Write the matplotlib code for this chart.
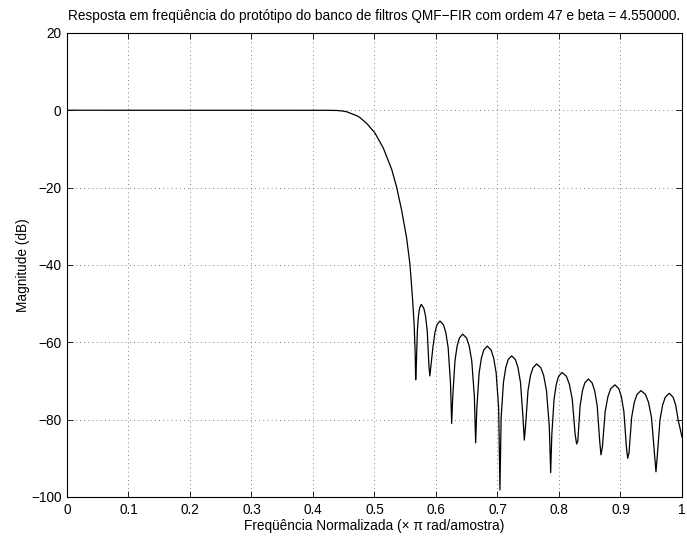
import matplotlib
matplotlib.use("Agg")
import matplotlib.pyplot as plt

plt.rcParams["font.family"] = ["Liberation Sans", "DejaVu Sans"]
plt.rcParams["font.size"] = 9.8

# frequency (x pi rad/sample) and magnitude (dB) of the QMF prototype
freq = [
    0.0, 0.1, 0.2, 0.3, 0.38, 0.42, 0.4385, 0.447,
    0.4548, 0.471, 0.4764, 0.4873, 0.5008, 0.5144, 0.528, 0.536, 0.5442, 0.5523,
    0.5577, 0.562, 0.5645, 0.566,
    0.567, 0.5679, 0.5697, 0.5715, 0.5733, 0.576, 0.5802, 0.583, 0.5858, 0.5886,
    0.590, 0.59495, 0.59825, 0.60155, 0.6065, 0.6122, 0.616, 0.6198, 0.6236,
    0.6255, 0.62729, 0.63087, 0.63445, 0.63803, 0.6434, 0.64973, 0.65395, 0.65817, 0.66239,
    0.6645, 0.66639, 0.67017, 0.67395, 0.67773, 0.6834, 0.68958, 0.6937, 0.69782, 0.70194,
    0.704, 0.7059, 0.7097, 0.7135, 0.7173, 0.723, 0.72918, 0.7333, 0.73742, 0.74154,
    0.7436, 0.74561, 0.74963, 0.75365, 0.75767, 0.7637, 0.77054, 0.7751, 0.77966, 0.78422,
    0.7865, 0.78834, 0.79202, 0.7957, 0.79938, 0.8049, 0.81204, 0.8168, 0.82156, 0.82632,
    0.8287, 0.8306, 0.8344, 0.8382, 0.842, 0.8477, 0.85388, 0.858, 0.86212, 0.86624,
    0.8683, 0.87057, 0.87511, 0.87965, 0.88419, 0.891, 0.89721, 0.90135, 0.90549, 0.90963,
    0.9117, 0.91386, 0.91818, 0.9225, 0.92682, 0.9333, 0.94062, 0.9455, 0.95038, 0.95526,
    0.9577, 0.95987, 0.96421, 0.96855, 0.97289, 0.9794, 0.98558, 0.9897, 0.99382, 1.0,
]
mag_db = [
    0.0, 0.0, 0.0, 0.0, 0.0, -0.02, -0.06, -0.18,
    -0.4, -1.4, -1.9, -3.4, -5.9, -9.8, -15.3, -19.9, -25.9, -33.1,
    -39.9, -49.0, -55.5, -62.0,
    -69.7, -66.3, -57.1, -53.2, -51.2, -50.2, -51.2, -53.2, -57.1, -66.3,
    -68.7, -61.4, -57.5, -55.5, -54.5, -55.5, -57.5, -61.4, -70.6,
    -81.0, -74.0, -64.8, -60.9, -58.9, -57.9, -58.9, -60.9, -64.8, -74.0,
    -86.0, -77.1, -67.9, -64.0, -62.0, -61.0, -62.0, -64.0, -67.9, -77.1,
    -98.2, -79.6, -70.4, -66.5, -64.5, -63.5, -64.5, -66.5, -70.4, -79.6,
    -85.3, -81.7, -72.5, -68.6, -66.6, -65.6, -66.6, -68.6, -72.5, -81.7,
    -93.7, -83.9, -74.7, -70.8, -68.8, -67.8, -68.8, -70.8, -74.7, -83.9,
    -86.3, -85.6, -76.4, -72.5, -70.5, -69.5, -70.5, -72.5, -76.4, -85.6,
    -89.1, -87.1, -77.9, -74.0, -72.0, -71.0, -72.0, -74.0, -77.9, -87.1,
    -90.0, -88.6, -79.4, -75.5, -73.5, -72.5, -73.5, -75.5, -79.4, -88.6,
    -93.5, -89.3, -80.1, -76.2, -74.2, -73.2, -74.2, -76.2, -80.1, -84.5,
]

xticks = [0, 0.1, 0.2, 0.3, 0.4, 0.5, 0.6, 0.7, 0.8, 0.9, 1]
xtick_labels = ["0", "0.1", "0.2", "0.3", "0.4", "0.5", "0.6", "0.7", "0.8", "0.9", "1"]
yticks = [-100, -80, -60, -40, -20, 0, 20]

fig = plt.figure(figsize=(6.87, 5.39), dpi=100)
ax = fig.add_axes([0.0975, 0.078, 0.8952, 0.861])

ax.plot(freq, mag_db, color="black", linewidth=0.9)

ax.set_xlim(0, 1)
ax.set_ylim(-100, 20)
ax.set_xticks(xticks)
ax.set_xticklabels(xtick_labels)
ax.set_yticks(yticks)
ax.set_yticklabels([str(v).replace("-", "\u2212") for v in yticks])

ax.grid(True, linestyle=(0, (1, 4)), color="0.35", linewidth=0.6)
ax.tick_params(direction="in", top=True, right=True, length=4, width=0.6, pad=4)
for s in ax.spines.values():
    s.set_linewidth(0.8)

ax.set_title("Resposta em freqüência do protótipo do banco de filtros QMF\u2212FIR "
             "com ordem 47 e beta = 4.550000.", fontsize=9.8, pad=9)
ax.set_xlabel("Freqüência Normalizada (× π rad/amostra)", labelpad=1.5)
ax.set_ylabel("Magnitude (dB)", labelpad=1)

fig.savefig("out.png", dpi=100)
